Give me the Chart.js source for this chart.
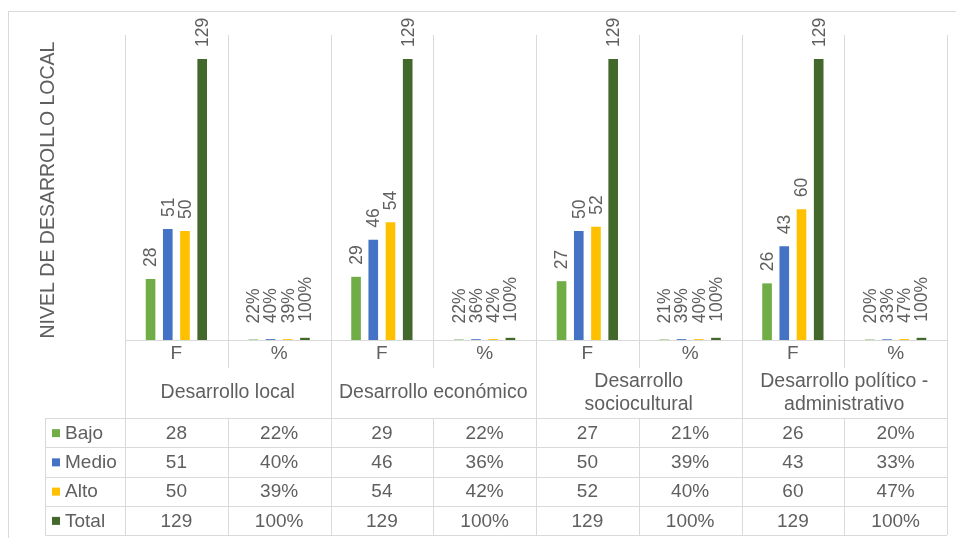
<!DOCTYPE html>
<html>
<head>
<meta charset="utf-8">
<script src="https://cdn.jsdelivr.net/npm/chart.js@4/dist/chart.umd.min.js"></script>
<style>
html,body{margin:0;padding:0;background:#fff;}
#wrap{position:relative;width:956px;height:538px;}
</style>
</head>
<body>
<div id="wrap"><canvas id="c"></canvas></div>
<script>
// ---- data ----
const categories = ['F', '%', 'F', '%', 'F', '%', 'F', '%'];
const groupLabels = [
  ['Desarrollo local'],
  ['Desarrollo económico'],
  ['Desarrollo', 'sociocultural'],
  ['Desarrollo político -', 'administrativo']
];
const seriesNames = ['Bajo', 'Medio', 'Alto', 'Total'];
const bajo  = [28, 0.22, 29, 0.22, 27, 0.21, 26, 0.20];
const medio = [51, 0.40, 46, 0.36, 50, 0.39, 43, 0.33];
const alto  = [50, 0.39, 54, 0.42, 52, 0.40, 60, 0.47];
const total = [129, 1.00, 129, 1.00, 129, 1.00, 129, 1.00];
const yTitle = 'NIVEL DE DESARROLLO LOCAL';

const colors = ['#70AD47', '#4472C4', '#FFC000', '#43682B'];
const seriesData = [bajo, medio, alto, total];

const FONT = '"Liberation Sans", Arial, Helvetica, sans-serif';
const TEXT = '#5f5f5f';
const LINE = '#D9D9D9';

function fmt(v, i) {
  return categories[i] === '%' ? Math.round(v * 100) + '%' : String(v);
}

const tablePlugin = {
  id: 'tablePlugin',
  beforeDatasetsDraw(chart) {
    const ctx = chart.ctx;
    const ca = chart.chartArea;
    const n = categories.length;
    const w = (ca.right - ca.left) / n;
    const rowTop = 418, rowH = 29.25, nRows = seriesNames.length;
    const tableBottom = rowTop + rowH * nRows;
    ctx.save();
    ctx.strokeStyle = LINE;
    ctx.lineWidth = 1;
    ctx.strokeRect(8.5, 11.5, 1000, 600);
    for (let i = 0; i <= n; i++) {
      const bx = Math.round(ca.left + i * w) + 0.5;
      ctx.beginPath();
      ctx.moveTo(bx, ca.top);
      if (i % 2 === 0) ctx.lineTo(bx, tableBottom);
      else { ctx.lineTo(bx, 368); ctx.moveTo(bx, rowTop); ctx.lineTo(bx, tableBottom); }
      ctx.stroke();
    }
    ctx.beginPath();
    ctx.moveTo(ca.left, Math.round(ca.bottom) + 0.5);
    ctx.lineTo(ca.right, Math.round(ca.bottom) + 0.5);
    ctx.stroke();
    const tLeft = 45.5;
    for (let r = 0; r <= nRows; r++) {
      const ry = Math.round(rowTop + r * rowH) + 0.5;
      ctx.beginPath(); ctx.moveTo(tLeft, ry); ctx.lineTo(ca.right, ry); ctx.stroke();
    }
    ctx.beginPath(); ctx.moveTo(tLeft, rowTop); ctx.lineTo(tLeft, tableBottom); ctx.stroke();
    ctx.restore();
  },
  afterDatasetsDraw(chart) {
    const ctx = chart.ctx;
    const ca = chart.chartArea;
    const n = categories.length;
    const w = (ca.right - ca.left) / n;
    const xs = chart.scales.x;
    ctx.save();
    ctx.fillStyle = TEXT;
    ctx.font = '17.5px ' + FONT;
    chart.data.datasets.forEach((ds, di) => {
      const meta = chart.getDatasetMeta(di);
      meta.data.forEach((el, i) => {
        const p = el.getProps(['x', 'y'], true);
        const off = categories[i] === '%' ? 16 : 12;
        ctx.save();
        ctx.translate(p.x + 1, p.y - off);
        ctx.rotate(-Math.PI / 2);
        ctx.textAlign = 'left';
        ctx.textBaseline = 'middle';
        ctx.fillText(fmt(ds.data[i], i), 0, 0);
        ctx.restore();
      });
    });
    ctx.font = '19px ' + FONT;
    ctx.textAlign = 'center';
    ctx.textBaseline = 'middle';
    categories.forEach((c, i) => {
      ctx.fillText(c, xs.getPixelForValue(i), 354);
    });
    ctx.font = '19.5px ' + FONT;
    groupLabels.forEach((lines, g) => {
      const cx = ca.left + (2 * g + 1) * w;
      const lh = 23;
      const y0 = 393 - (lines.length - 1) * lh / 2;
      lines.forEach((t, k) => ctx.fillText(t, cx, y0 + k * lh));
    });
    ctx.font = '19px ' + FONT;
    const rowTop = 418, rowH = 29.25;
    seriesNames.forEach((name, r) => {
      const cy = rowTop + rowH * r + rowH / 2 + 1;
      ctx.fillStyle = colors[r];
      ctx.fillRect(52, cy - 4.5, 8, 8);
      ctx.fillStyle = TEXT;
      ctx.textAlign = 'left';
      ctx.fillText(name, 65, cy);
      ctx.textAlign = 'center';
      seriesData[r].forEach((v, i) => {
        ctx.fillText(fmt(v, i), xs.getPixelForValue(i), cy);
      });
    });
    ctx.font = '19.5px ' + FONT;
    ctx.save();
    ctx.translate(49, 190);
    ctx.rotate(-Math.PI / 2);
    ctx.textAlign = 'center';
    ctx.textBaseline = 'middle';
    ctx.fillText(yTitle, 0, 0);
    ctx.restore();
    ctx.restore();
  }
};

new Chart(document.getElementById('c'), {
  type: 'bar',
  data: {
    labels: categories.map((c, i) => c + i),
    datasets: seriesNames.map((name, i) => ({
      label: name,
      data: seriesData[i],
      backgroundColor: colors[i],
      borderWidth: 0,
      categoryPercentage: 0.67,
      barPercentage: 0.56
    }))
  },
  options: {
    responsive: true,
    maintainAspectRatio: false,
    animation: false,
    layout: { padding: { left: 125, right: 9, top: 35, bottom: 198 } },
    plugins: { legend: { display: false }, tooltip: { enabled: false } },
    scales: {
      x: { display: false },
      y: { display: false, min: 0, max: 140 }
    }
  },
  plugins: [tablePlugin]
});
</script>
</body>
</html>
